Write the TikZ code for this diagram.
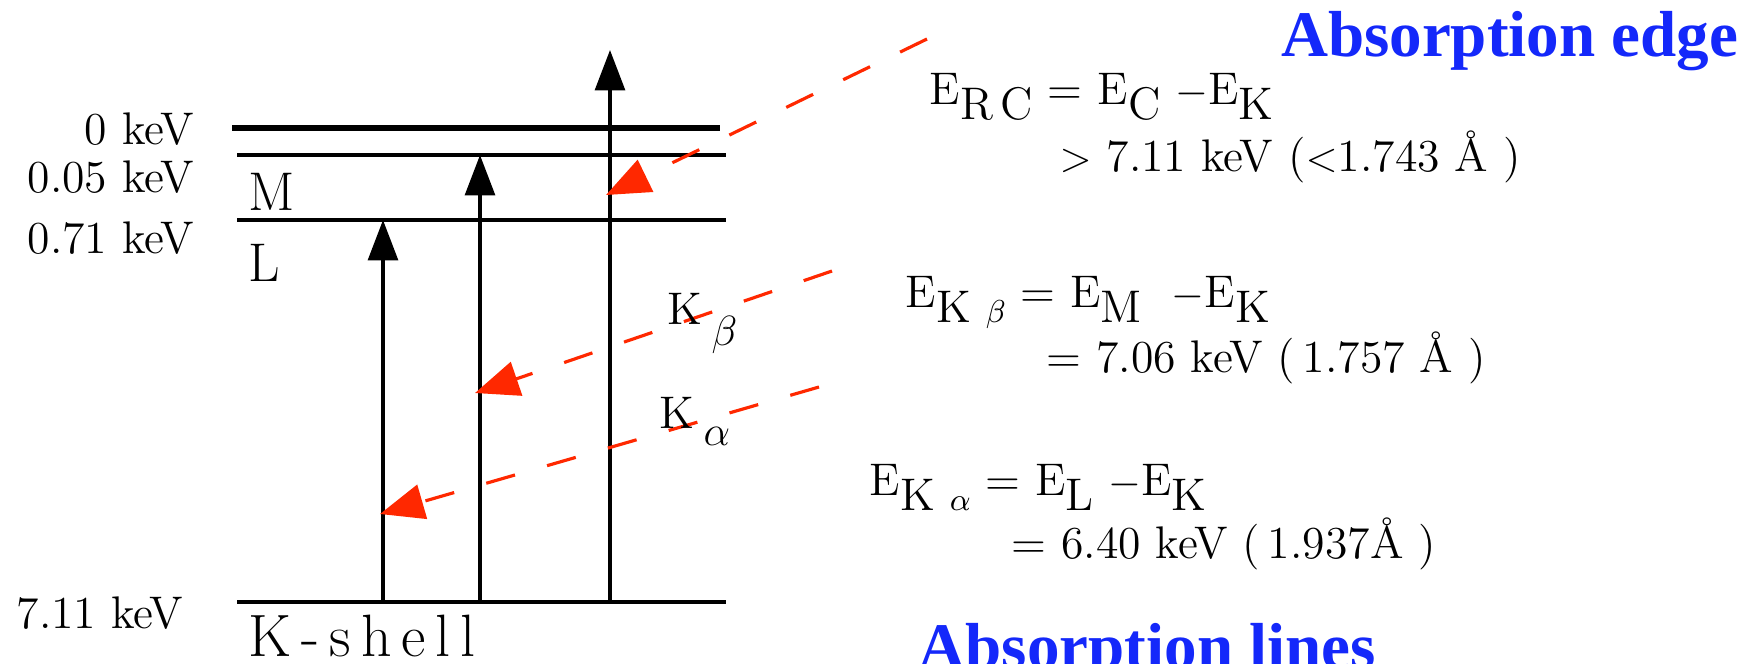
\documentclass[tikz,border=0pt]{standalone}
\usepackage{fontspec}
\usepackage{tikz}
\usetikzlibrary{arrows.meta}
\newfontfamily\headfont{Liberation Serif}
\definecolor{XrayRed}{RGB}{255,40,0}
\definecolor{EdgeBlue}{RGB}{20,40,250}
\newcommand{\lowsub}[1]{\raisebox{-0.8ex}{#1}}

\begin{document}
\begin{tikzpicture}[x=0.01cm, y=-0.01cm,
    shell/.style={line width=0.9pt},
    excite/.style={line width=1pt, -{Triangle[length=11.5pt, width=8.5pt]}},
    emit/.style={XrayRed, line width=0.9pt, dash pattern=on 8.5pt off 9.5pt,
        -{Triangle[length=12.5pt, width=10pt]}},
    txt/.style={font=\fontsize{13}{15}\selectfont, inner sep=0pt},
    headline/.style={font=\headfont\bfseries\fontsize{18.5}{20}\selectfont,
        text=EdgeBlue, inner sep=0pt}]
    \path[use as bounding box, clip] (0,0) rectangle (1751,663);
    % Energy levels
    \draw[line width=1.8pt] (232,128) -- (720,128);
    \draw[shell] (237,155) -- (726,155);
    \draw[shell] (237,220) -- (726,220);
    \draw[shell] (237,602) -- (726,602);
    \node[txt, anchor=east] (e0) at (195,129) {0 keV};
    \node[txt, anchor=east] (eM) at (195,177) {0.05 keV};
    \node[txt, anchor=east] (eL) at (195,238) {0.71 keV};
    \node[txt, anchor=east] (eK) at (184,613) {7.11 keV};
    \node[font=\fontsize{15.5}{17}\selectfont, inner sep=0pt, anchor=base west] (shM) at (248,210) {M};
    \node[font=\fontsize{15.5}{17}\selectfont, inner sep=0pt, anchor=base west] (shL) at (248,281) {L};
    \node[font=\fontsize{17}{19}\selectfont, inner sep=0pt,
        anchor=base west] (shK) at (248,656) {K\,-\,s\,h\,e\,l\,l};
    % Excitation of the K electron
    \coordinate (k1) at (383,602); \coordinate (l1) at (383,220);
    \coordinate (k2) at (480,602); \coordinate (m2) at (480,155);
    \coordinate (k3) at (610,602); \coordinate (c3) at (610,50);
    \draw[excite] (k1) -- (l1);
    \draw[excite] (k2) -- (m2);
    \draw[excite] (k3) -- (c3);
    % Emitted and absorbed photons
    \coordinate (pe) at (927,39);  \coordinate (te) at (606,195);
    \coordinate (pb) at (832,271); \coordinate (tb) at (475,393);
    \coordinate (pa) at (819,387); \coordinate (ta) at (380,514);
    \draw[emit] (pe) -- (te);
    \draw[emit] (pb) -- (tb);
    \draw[emit] (pa) -- (ta);
    \node[txt, anchor=base west] (kb) at (667,324) {K\hspace{0.2em}\raisebox{-1.1ex}{$\beta$}};
    \node[txt, anchor=base west] (ka) at (659,428) {K\hspace{0.2em}\raisebox{-0.9ex}{$\alpha$}};
    % Energies
    \node[txt, anchor=base west] (erc) at (929,104) {E\lowsub{R\,C} = E\lowsub{C} $-$E\lowsub{K}};
    \node[txt, anchor=base west] (ercv) at (1059,171) {$>$ 7.11 keV ($<$1.743 Å\ )};
    \node[txt, anchor=base west] (ekb) at (905,307) {E\lowsub{K $\scriptstyle\beta$} = E\lowsub{M} \ $-$E\lowsub{K}};
    \node[txt, anchor=base west] (ekbv) at (1046,372) {= 7.06 keV (\,1.757 Å\ )};
    \node[txt, anchor=base west] (eka) at (869,495) {E\lowsub{K $\scriptstyle\alpha$} = E\lowsub{L} $-$E\lowsub{K}};
    \node[txt, anchor=base west] (ekav) at (1011,558) {= 6.40 keV (\,1.937Å\ )};
    \node[headline, anchor=base east] (hedge) at (1739,56) {Absorption edge};
    \node[headline, anchor=base west] (hlines) at (918,668) {Absorption lines};
\end{tikzpicture}
\end{document}
